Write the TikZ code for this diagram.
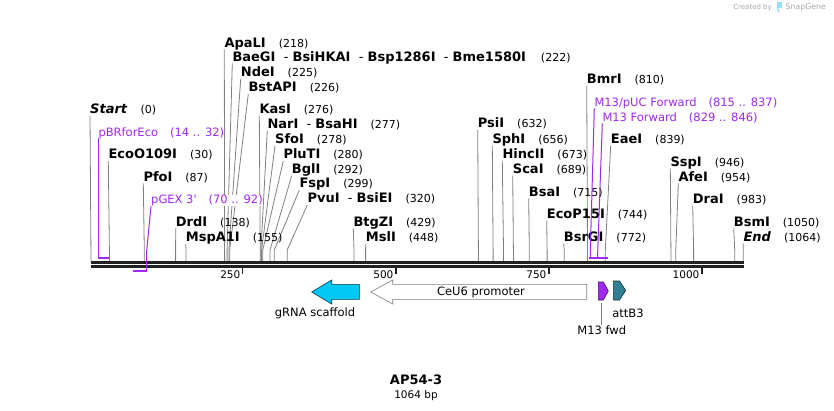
\documentclass[tikz,border=0pt]{standalone}
\usepackage{fontspec}
\setmainfont{DejaVu Sans}
\usepackage{xcolor}
\usepackage{tikz}
\usetikzlibrary{arrows.meta, positioning}

\pgfdeclarelayer{bg}
\pgfsetlayers{bg,main}

\definecolor{primer}{RGB}{160,40,240}
\definecolor{scaffold}{RGB}{0,200,245}
\definecolor{attcol}{RGB}{49,128,150}

\newcommand{\site}[2]{\textbf{#1}\hspace{13pt}{\fontsize{11}{13}\selectfont(#2)}}
\newcommand{\oligo}[2]{#1\hspace{12pt}(#2)}

\begin{document}
\begin{tikzpicture}[x=1pt, y=-1pt,
        enz/.style={anchor=base west, inner sep=0pt, text depth=2pt, font=\fontsize{13}{15}\selectfont},
        prm/.style={anchor=base west, inner sep=0pt, text depth=2pt, fill=white, text=primer, font=\fontsize{11.5}{14}\selectfont},
        cut/.style={draw=black!50, line width=0.8pt},
        oline/.style={draw=primer, line width=1pt},
        obar/.style={draw=primer, line width=2pt},
        seq/.style={draw=black!87, line width=2.5pt},
        tick/.style={draw=black!87, line width=1.5pt},
        ticklbl/.style={anchor=base east, inner sep=0pt, font=\fontsize{10.5}{12}\selectfont},
        featlbl/.style={inner sep=0pt, font=\fontsize{11.5}{14}\selectfont}]

        \useasboundingbox (0,0) rectangle (834,411);

        % Sequence line
        \coordinate (seqL) at (90.5,262.5);
        \coordinate (seqR) at (743.5,262.5);
        \draw[seq] (seqL) -- (seqR);
        \draw[seq] ([yshift=-4pt]seqL) -- ([yshift=-4pt]seqR);

        % Ticks
        \coordinate (t250) at (242.7,267.5);
        \coordinate (t500) at (395.8,267.5);
        \coordinate (t750) at (548.8,267.5);
        \coordinate (t1000) at (701.8,267.5);
        \draw[tick] (t250) -- ++(0,6.5);
        \draw[tick] (t500) -- ++(0,6.5);
        \draw[tick] (t750) -- ++(0,6.5);
        \draw[tick] (t1000) -- ++(0,6.5);
        \node[ticklbl] (l250) at (240.5,278.5) {250};
        \node[ticklbl] (l500) at (393.6,278.5) {500};
        \node[ticklbl] (l750) at (546.6,278.5) {750};
        \node[ticklbl] (l1000) at (699.6,278.5) {1000};

        % Cut sites on the line
        \coordinate (cStart) at (91,261);
        \coordinate (cEcoO) at (109.4,261);
        \coordinate (cPfo) at (144.3,261);
        \coordinate (cDrd) at (175.6,261);
        \coordinate (cMspA) at (186,261);
        \coordinate (cApaL) at (224.6,261);
        \coordinate (cBaeG) at (227.1,261);
        \coordinate (cNde) at (228.9,261);
        \coordinate (cBstAP) at (229.7,261);
        \coordinate (cKas) at (260.2,261);
        \coordinate (cNar) at (260.9,261);
        \coordinate (cSfo) at (261.6,261);
        \coordinate (cPluT) at (262.8,261);
        \coordinate (cBgl) at (270,261);
        \coordinate (cFsp) at (274.3,261);
        \coordinate (cPvu) at (287.2,261);
        \coordinate (cBtgZ) at (354,261);
        \coordinate (cMsl) at (365.6,261);
        \coordinate (cPsi) at (478.4,261);
        \coordinate (cSph) at (493.1,261);
        \coordinate (cHinc) at (503.5,261);
        \coordinate (cSca) at (513.4,261);
        \coordinate (cBsa) at (529.3,261);
        \coordinate (cEcoP) at (547.1,261);
        \coordinate (cBsrG) at (564.2,261);
        \coordinate (cBmr) at (587.5,261);
        \coordinate (cEae) at (605.3,261);
        \coordinate (cSsp) at (670.9,261);
        \coordinate (cAfe) at (675.8,261);
        \coordinate (cDra) at (693.6,261);
        \coordinate (cBsm) at (734.7,261);
        \coordinate (cEnd) at (743.2,261);

        % Enzyme labels
        \node[enz] (nApaL) at (224.3,47.2) {\site{ApaLI}{218}};
        \node[enz] (nBaeG) at (232.3,61.2) {\textbf{BaeGI}\ \ -\ \textbf{BsiHKAI}\ \ -\ \textbf{Bsp1286I}\ \ -\ \textbf{Bme1580I}\hspace{15pt}{\fontsize{11}{13}\selectfont(222)}};
        \node[enz] (nNde) at (240.7,76.8) {\site{NdeI}{225}};
        \node[enz] (nBstAP) at (248.3,91.8) {\site{BstAPI}{226}};
        \node[enz] (nStart) at (90,113.5) {\site{\textit{Start}}{0}};
        \node[enz] (nKas) at (259.3,113.5) {\site{KasI}{276}};
        \node[enz] (nNar) at (267.3,128.5) {\textbf{NarI}\ \ -\ \textbf{BsaHI}\hspace{13pt}{\fontsize{11}{13}\selectfont(277)}};
        \node[enz] (nSfo) at (275,143.5) {\site{SfoI}{278}};
        \node[enz] (nEcoO) at (108.3,158.8) {\site{EcoO109I}{30}};
        \node[enz] (nPluT) at (283.3,158.8) {\site{PluTI}{280}};
        \node[enz] (nBgl) at (291.7,173.5) {\site{BglI}{292}};
        \node[enz] (nPfo) at (143.3,181.2) {\site{PfoI}{87}};
        \node[enz] (nFsp) at (299.3,187.8) {\site{FspI}{299}};
        \node[enz] (nPvu) at (307.3,202.8) {\textbf{PvuI}\ \ -\ \textbf{BsiEI}\hspace{13pt}{\fontsize{11}{13}\selectfont(320)}};
        \node[enz] (nDrd) at (175.7,226.2) {\site{DrdI}{138}};
        \node[enz] (nMspA) at (185.7,241.8) {\site{MspA1I}{155}};
        \node[enz] (nBtgZ) at (353.3,226.2) {\site{BtgZI}{429}};
        \node[enz] (nMsl) at (365.7,241.8) {\site{MslI}{448}};
        \node[enz] (nPsi) at (477.7,127.8) {\site{PsiI}{632}};
        \node[enz] (nSph) at (492.3,143.5) {\site{SphI}{656}};
        \node[enz] (nHinc) at (502.3,158.5) {\site{HincII}{673}};
        \node[enz] (nSca) at (512.7,173.5) {\site{ScaI}{689}};
        \node[enz] (nBsa) at (528.7,196.2) {\site{BsaI}{715}};
        \node[enz] (nEcoP) at (546.7,218.5) {\site{EcoP15I}{744}};
        \node[enz] (nBsrG) at (563.7,241.2) {\site{BsrGI}{772}};
        \node[enz] (nBmr) at (586.7,83.5) {\site{BmrI}{810}};
        \node[enz] (nEae) at (610.7,143.5) {\site{EaeI}{839}};
        \node[enz] (nSsp) at (670.3,166.2) {\site{SspI}{946}};
        \node[enz] (nAfe) at (678.3,181.2) {\site{AfeI}{954}};
        \node[enz] (nDra) at (692.7,203.5) {\site{DraI}{983}};
        \node[enz] (nBsm) at (733.7,226.2) {\site{BsmI}{1050}};
        \node[enz] (nEnd) at (743.3,241.2) {\site{\textit{End}}{1064}};

        % Primer labels
        \node[prm] (pBR) at (98.3,136.2) {\oligo{pBRforEco}{14 .. 32}};
        \node[prm] (pGEX) at (151,203.8) {\oligo{pGEX 3\textquotesingle}{70 .. 92}};
        \node[prm] (pM13pUC) at (594.3,106.2) {\oligo{M13/pUC Forward}{815 .. 837}};
        \node[prm] (pM13F) at (602.3,121.2) {\oligo{M13 Forward}{829 .. 846}};

        % Edges
        \begin{pgfonlayer}{bg}
        \draw[cut] (nStart.south west) -- (cStart);
        \draw[cut] (nEcoO.south west) -- ([yshift=11pt]cEcoO) -- (cEcoO);
        \draw[cut] (nPfo.south west) -- ([yshift=11pt]cPfo) -- (cPfo);
        \draw[cut] (nDrd.south west) -- ([yshift=11pt]cDrd) -- (cDrd);
        \draw[cut] (nMspA.south west) -- ([yshift=11pt]cMspA) -- (cMspA);
        \draw[cut] (nApaL.south west) -- ([yshift=11pt]cApaL) -- (cApaL);
        \draw[cut] (nBaeG.south west) -- ([yshift=11pt]cBaeG) -- (cBaeG);
        \draw[cut] (nNde.south west) -- ([yshift=11pt]cNde) -- (cNde);
        \draw[cut] (nBstAP.south west) -- ([yshift=11pt]cBstAP) -- (cBstAP);
        \draw[cut] (nKas.south west) -- ([yshift=11pt]cKas) -- (cKas);
        \draw[cut] (nNar.south west) -- ([yshift=11pt]cNar) -- (cNar);
        \draw[cut] (nSfo.south west) -- ([yshift=11pt]cSfo) -- (cSfo);
        \draw[cut] (nPluT.south west) -- ([yshift=11pt]cPluT) -- (cPluT);
        \draw[cut] (nBgl.south west) -- ([yshift=11pt]cBgl) -- (cBgl);
        \draw[cut] (nFsp.south west) -- ([yshift=11pt]cFsp) -- (cFsp);
        \draw[cut] (nPvu.south west) -- ([yshift=11pt]cPvu) -- (cPvu);
        \draw[cut] (nBtgZ.south west) -- ([yshift=11pt]cBtgZ) -- (cBtgZ);
        \draw[cut] (nMsl.south west) -- ([yshift=11pt]cMsl) -- (cMsl);
        \draw[cut] (nPsi.south west) -- ([yshift=11pt]cPsi) -- (cPsi);
        \draw[cut] (nSph.south west) -- ([yshift=11pt]cSph) -- (cSph);
        \draw[cut] (nHinc.south west) -- ([yshift=11pt]cHinc) -- (cHinc);
        \draw[cut] (nSca.south west) -- ([yshift=11pt]cSca) -- (cSca);
        \draw[cut] (nBsa.south west) -- ([yshift=11pt]cBsa) -- (cBsa);
        \draw[cut] (nEcoP.south west) -- ([yshift=11pt]cEcoP) -- (cEcoP);
        \draw[cut] (nBsrG.south west) -- ([yshift=11pt]cBsrG) -- (cBsrG);
        \draw[cut] (nBmr.south west) -- ([yshift=11pt]cBmr) -- (cBmr);
        \draw[cut] (nEae.south west) -- ([yshift=11pt]cEae) -- (cEae);
        \draw[cut] (nSsp.south west) -- ([yshift=11pt]cSsp) -- (cSsp);
        \draw[cut] (nAfe.south west) -- ([yshift=11pt]cAfe) -- (cAfe);
        \draw[cut] (nDra.south west) -- ([yshift=11pt]cDra) -- (cDra);
        \draw[cut] (nBsm.south west) -- ([yshift=11pt]cBsm) -- (cBsm);
        \draw[cut] (nEnd.south west) -- (cEnd);
        \end{pgfonlayer}

        % Primer binding sites
        \coordinate (bBR) at (98.3,257.7);
        \coordinate (bGEX) at (146.7,270.7);
        \coordinate (bM13pUC) at (590.3,257.7);
        \coordinate (bM13F) at (597.7,257.7);
        \draw[oline] (pBR.south west) -- (bBR);
        \draw[obar] (bBR) -- ++(11,0);
        \draw[oline] (pGEX.south west) -- ([yshift=20pt]bGEX) -- (bGEX);
        \draw[obar] (bGEX) -- ++(-13.4,0);
        \draw[oline] (pM13pUC.south west) -- ([yshift=6pt]bM13pUC) -- (bM13pUC);
        \draw[oline] (pM13F.south west) -- ([yshift=6pt]bM13F) -- (bM13F);
        \draw[obar] ([xshift=-1pt]bM13pUC) -- (608.3,257.7);

        % Features
        \draw[draw=black!70!scaffold, fill=scaffold, line width=0.6pt]
            (359.3,284.3) -- (331.7,284.3) -- (331.7,280) -- (311.7,292) -- (331.7,304) -- (331.7,299.3) -- (359.3,299.3) -- cycle;
        \draw[draw=black!50, fill=white, line width=0.6pt]
            (586.7,284.3) -- (392.7,284.3) -- (392.7,280) -- (370.7,292) -- (392.7,304) -- (392.7,299.3) -- (586.7,299.3) -- cycle;
        \draw[draw=black!60!primer, fill=primer, line width=0.6pt]
            (598.3,282) -- (603.3,282) -- (608.3,291) -- (603.3,300) -- (598.3,300) -- cycle;
        \draw[draw=black!60!attcol, fill=attcol, line width=0.6pt]
            (613.3,281) -- (619.5,281) -- (625.7,290.5) -- (619.5,300) -- (613.3,300) -- cycle;

        \node[featlbl] (fCeU6) at (481,292) {CeU6 promoter};
        \node[featlbl] (fgRNA) at (315,313) {gRNA scaffold};
        \node[featlbl] (fattB3) at (628,313) {attB3};
        \node[featlbl] (fM13) at (601.7,330) {M13 fwd};
        \coordinate (kM13) at (601.7,303);
        \draw[cut] (kM13) -- (fM13.north);

        % Title
        \node[font=\fontsize{13}{15}\selectfont\bfseries, inner sep=0pt] (title) at (416,380) {AP54-3};
        \node[font=\fontsize{10.5}{12}\selectfont, inner sep=0pt, below=5pt of title] (len) {1064 bp};

        % Watermark
        \node[anchor=east, inner sep=0pt, text=black!35, font=\fontsize{7}{9}\selectfont] (wmA) at (772,7.5) {Created by};
        \node[anchor=west, inner sep=0pt, text=black!35, font=\fontsize{7.8}{10}\selectfont] (wmB) at (785.5,7.5) {SnapGene};
        \fill[cyan!40] (776.5,2) rectangle (782,8.5);
        \fill[cyan!40] (776.5,8.5) -- (779,13.5) -- (779,8.5) -- cycle;
    \end{tikzpicture}
\end{document}
